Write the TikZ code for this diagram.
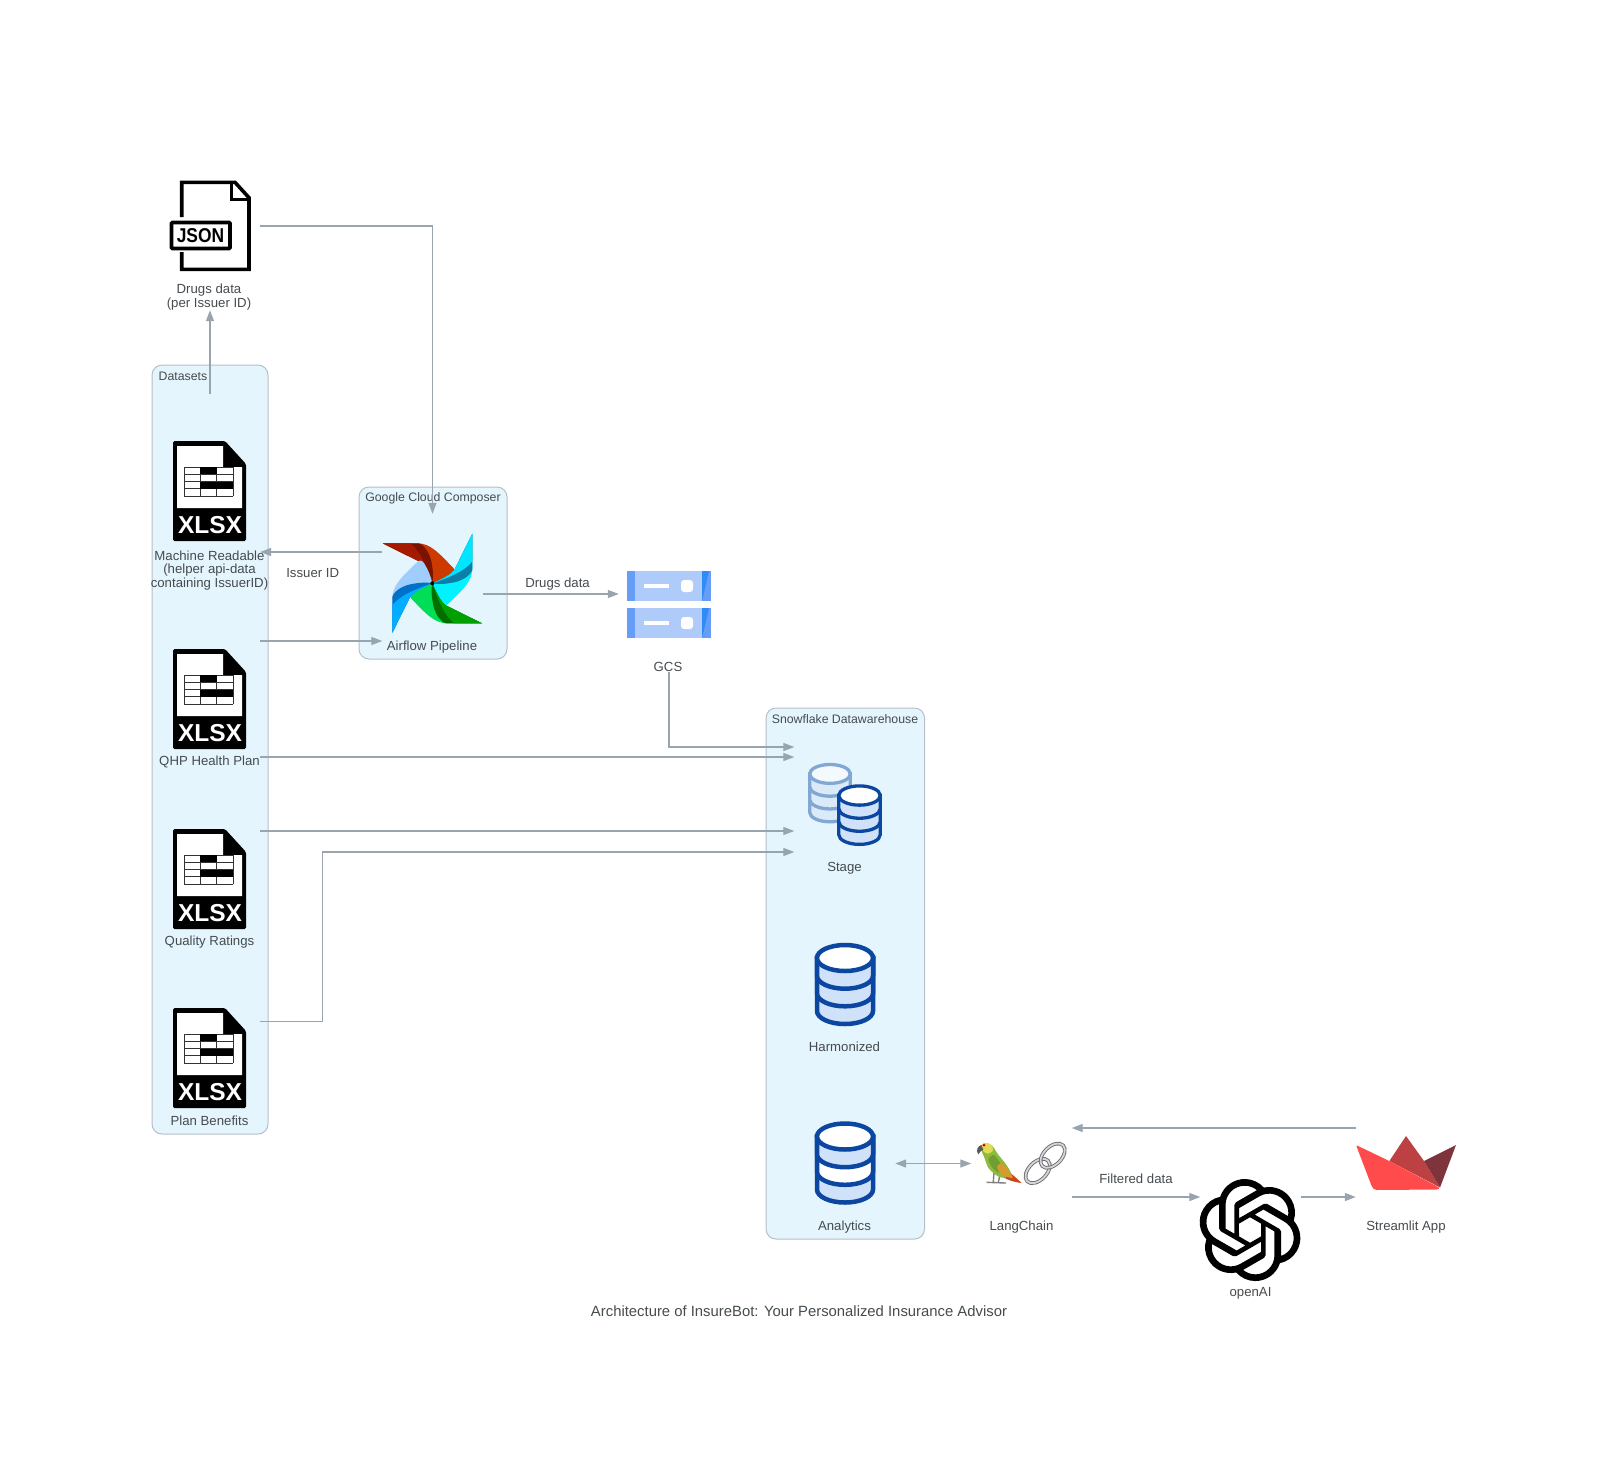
\documentclass[tikz,border=0pt]{standalone}
\usepackage{fontspec}
\setmainfont{Liberation Sans}
\usetikzlibrary{arrows.meta, calc, svg.path}
\definecolor{clusterfill}{HTML}{E5F5FD}
\definecolor{clusterline}{HTML}{B4C0C8}
\definecolor{linegrey}{HTML}{98A4AE}
\definecolor{labelgrey}{HTML}{454B4F}
\definecolor{dbblue}{HTML}{0B47A1}
\definecolor{dbpale}{HTML}{CFE2FA}
\definecolor{dbfaded}{HTML}{80A8D2}
\definecolor{dbfadedfill}{HTML}{DAEAF9}
\definecolor{gcsmid}{HTML}{AECBFA}
\definecolor{gcsside}{HTML}{669DF6}
\definecolor{gcsdark}{HTML}{2E8BF7}
\definecolor{redbase}{HTML}{A61B00}
\definecolor{redstripe}{HTML}{7A1200}
\definecolor{redouter}{HTML}{CC3A00}
\definecolor{cyanbase}{HTML}{00E5FF}
\definecolor{cyanstripe}{HTML}{0B7FA8}
\definecolor{cyanouter}{HTML}{00F2FF}
\definecolor{greenbase}{HTML}{00A000}
\definecolor{greenstripe}{HTML}{006F00}
\definecolor{greenouter}{HTML}{00DE55}
\definecolor{bluebase}{HTML}{00ADFF}
\definecolor{bluestripe}{HTML}{0070C8}
\definecolor{blueouter}{HTML}{A0CEFC}
\definecolor{boatleft}{HTML}{FF4B4B}
\definecolor{boatmid}{HTML}{BD4043}
\definecolor{boatright}{HTML}{7D353B}
\definecolor{parrotgreen}{HTML}{8DBB3C}
\definecolor{parrotdark}{HTML}{6E9E34}
\definecolor{parrothead}{HTML}{E3DA55}
\definecolor{parrotwing}{HTML}{D69A2E}
\definecolor{parrottail}{HTML}{C8481E}

\begin{document}
\begin{tikzpicture}[x=1pt, y=-1pt, >={Triangle[length=11pt, width=8pt]},
    flow/.style = {->, color=linegrey, line width=1.3pt},
    cluster/.style = {fill=clusterfill, draw=clusterline, line width=1pt, rounded corners=10pt},
    clusterlabel/.style = {font=\fontsize{12.3}{13}\selectfont, text=labelgrey, inner sep=0pt},
    lbl/.style = {font=\fontsize{13.2}{13.6}\selectfont, text=labelgrey, align=center, inner sep=0pt},
    iconbox/.style = {minimum width=100pt, minimum height=100pt, inner sep=0pt},
    dbline/.style = {line width=4.5pt},
    pics/xlsxfile/.style = {code={
        \fill[black, rounded corners=1.5pt] (-37,-50) -- (15,-50) -- (36,-27) -- (36,50) -- (-37,50) -- cycle;
        \fill[white] (-33,-45) -- (13,-45) -- (13,-24) -- (32,-24) -- (32,17) -- (-33,17) -- cycle;
        \foreach \gx in {-26,-9.7,6.7,23} \draw[black!80, line width=0.7pt] (\gx,-24) -- (\gx,5);
        \foreach \gy in {-24,-16.75,-9.5,-2.25,5} \draw[black!80, line width=0.7pt] (-26,\gy) -- (23,\gy);
        \fill[black] (-9.7,-24) rectangle (6.7,-16.75);
        \fill[black] (-9.7,-9.5) rectangle (23,-2.25);
        \node[text=white, font=\fontsize{24.5}{24}\bfseries, inner sep=0pt] (-tag) at (0,34) {XLSX};
    }},
    pics/dbicon/.style n args = {5}{code={
        \filldraw[draw=#1, fill=#5] (-28,-27) -- (-28,26) arc[start angle=180, end angle=0, x radius=28, y radius=13] -- (28,-27) -- cycle;
        \filldraw[draw=#1, fill=#4] (-28,-27) -- (-28,8.3) arc[start angle=180, end angle=0, x radius=28, y radius=13] -- (28,-27) -- cycle;
        \filldraw[draw=#1, fill=#3] (-28,-27) -- (-28,-9.3) arc[start angle=180, end angle=0, x radius=28, y radius=13] -- (28,-27) -- cycle;
        \filldraw[draw=#1, fill=#2] (0,-27) ellipse[x radius=28, y radius=13];
    }},
    pics/blade/.style n args = {3}{code={
        \fill[#3] (-149,-120) -- (-45,-120) .. controls (-5,-120) and (20,-90) .. (63,-46) .. controls (70,-38) and (70,-32) .. (62,-26) .. controls (40,-12) and (20,-4) .. (0,0) .. controls (-12,-28) and (-25,-55) .. (-40,-66) -- cycle;
        \fill[#2] (-149,-120) -- (-40,-120) .. controls (-20,-112) and (-5,-85) .. (-1,-55) .. controls (3,-35) and (3,-15) .. (0,0) .. controls (-12,-28) and (-25,-55) .. (-40,-66) -- cycle;
        \fill[#1] (-149,-120) -- (-66,-120) .. controls (-40,-100) and (-20,-60) .. (0,0) .. controls (-12,-28) and (-25,-55) .. (-40,-66) -- cycle;
    }}]
    \useasboundingbox (0,0) rectangle (1600,1465);
    % clusters
    \filldraw[cluster] (152,365) rectangle (268,1134);
    \filldraw[cluster] (359,487) rectangle (507,659);
    \filldraw[cluster] (766,708) rectangle (924.5,1239);
    \node[clusterlabel] (datasetsLabel) at (183,376.5) {Datasets};
    \node[clusterlabel] (composerLabel) at (433,498.5) {Google Cloud Composer};
    \node[clusterlabel] (snowflakeLabel) at (845,719.5) {Snowflake Datawarehouse};

    % nodes (invisible boxes, the icons go on top)
    \node[iconbox] (json) at (210,226) {};
    \node[iconbox] (machine) at (210,491) {};
    \node[iconbox] (qhp) at (210,699) {};
    \node[iconbox] (quality) at (210,879) {};
    \node[iconbox] (benefits) at (210,1058) {};
    \node[iconbox] (airflow) at (432.5,584) {};
    \node[iconbox] (gcs) at (669,604) {};
    \node[iconbox] (stage) at (844.5,805) {};
    \node[iconbox] (harmonized) at (845,985) {};
    \node[iconbox] (analytics) at (845,1163.5) {};
    \node[iconbox] (langchain) at (1021.5,1163.5) {};
    \node[iconbox] (openai) at (1250.5,1229) {};
    \node[iconbox] (streamlit) at (1406,1163) {};

    % json file
    \draw[black, line width=3.6pt] (181.7,217) -- (181.7,182.3) -- (235,182.3) -- (249,197.7) -- (249,269.3) -- (181.7,269.3) -- (181.7,252);
    \draw[black, line width=3.4pt] (231.7,184) -- (231.7,199.3) -- (247,199.3);
    \draw[black, line width=3.8pt, rounded corners=1pt] (171.5,222.5) rectangle (230,248.5);
    \node[font=\fontsize{20}{20}\bfseries, xscale=0.87, inner sep=0pt] (jsonTag) at (200.5,235.5) {JSON};

    % excel files
    \pic (machineIcon) at (machine.center) {xlsxfile};
    \pic (qhpIcon) at (qhp.center) {xlsxfile};
    \pic (qualityIcon) at (quality.center) {xlsxfile};
    \pic (benefitsIcon) at (benefits.center) {xlsxfile};

    % pinwheel
    \pic[scale=1/3] at (432.3,583.3) {blade={redbase}{redstripe}{redouter}};
    \pic[scale=1/3, rotate=-90] at (432.3,583.3) {blade={cyanbase}{cyanstripe}{cyanouter}};
    \pic[scale=1/3, rotate=180] at (432.3,583.3) {blade={greenbase}{greenstripe}{greenouter}};
    \pic[scale=1/3, rotate=90] at (432.3,583.3) {blade={bluebase}{bluestripe}{blueouter}};
    \fill[black] (432.3,583.3) circle (2);

    % bucket
    \foreach \ytop in {571,608} {
        \fill[gcsmid] (627,\ytop) rectangle (711,\ytop+30);
        \fill[gcsside] (627,\ytop) rectangle (635,\ytop+30);
        \fill[gcsside] (702,\ytop) rectangle (711,\ytop+30);
        \fill[gcsdark] (702,\ytop) -- (709,\ytop) -- (702,\ytop+30) -- cycle;
        \fill[white] (643.5,\ytop+13) rectangle (668.5,\ytop+17);
        \fill[white, rounded corners=3pt] (681,\ytop+9) rectangle (693,\ytop+21);
    }

    % warehouse layers
    \pic[line width=3.3pt, scale=0.725] at (830,793.5) {dbicon={dbfaded}{white!70!dbfadedfill}{dbfadedfill}{dbfadedfill}{dbfadedfill}};
    \pic[line width=3.3pt, scale=0.74] at (859.5,815.5) {dbicon={dbblue}{white}{dbpale}{dbpale}{dbpale}};
    \pic[dbline] at (harmonized.center) {dbicon={dbblue}{white}{dbpale}{dbpale}{dbpale}};
    \pic[dbline] at (analytics.center) {dbicon={dbblue}{white}{dbpale}{white}{dbpale}};

    % parrot and chain
    \begin{scope}[shift={(970,1135)}, scale=1/3]
        \draw[gray, line width=1.4pt] (72,112) -- (70,140) (90,118) -- (85,142) (50,142) -- (108,144);
        \fill[parrottail] (100,100) .. controls (118,110) and (135,125) .. (155,144) .. controls (135,142) and (115,136) .. (98,126) -- cycle;
        \fill[parrotgreen] plot[smooth cycle] coordinates {(32,36) (50,24) (68,34) (84,58) (108,88) (124,118) (105,128) (84,124) (56,100) (44,70)};
        \fill[parrotdark] plot[smooth cycle] coordinates {(56,72) (72,60) (90,84) (100,108) (84,112) (66,96)};
        \fill[parrotwing] plot[smooth cycle] coordinates {(82,92) (98,86) (116,108) (128,128) (106,124) (88,112)};
        \fill[parrothead] plot[smooth cycle] coordinates {(32,32) (50,24) (66,32) (68,48) (52,56) (38,46)};
        \fill[gray!70!black] (34,30) .. controls (22,34) and (18,44) .. (24,58) .. controls (30,50) and (36,46) .. (40,44) -- cycle;
        \fill[red!70!orange] (42,30) circle (5);
        \fill[black] (42,31) circle (2.2);
        \draw[gray!85!black, line width=3.6pt] (203,108) ellipse[x radius=44, y radius=27, rotate=45];
        \draw[blue!10!gray!30!white, line width=1.8pt] (203,108) ellipse[x radius=44, y radius=27, rotate=45];
        \draw[gray!85!black, line width=3.6pt] (248,62) ellipse[x radius=44, y radius=27, rotate=45];
        \draw[blue!10!gray!30!white, line width=1.8pt] (248,62) ellipse[x radius=44, y radius=27, rotate=45];
    \end{scope}

    % openai knot
    \fill[black, even odd rule, shift={(1250,1230)}, scale=4.25, yscale=-1, shift={(-12pt,-12pt)}] svg {
        M 22.2819 9.8211 a 5.9847 5.9847 0 0 0 -0.5157 -4.9108 a 6.0462 6.0462 0 0 0 -6.5098 -2.9 A 6.0651 6.0651 0 0 0 4.9807 4.1818 a 5.9847 5.9847 0 0 0 -3.9977 2.9 a 6.0462 6.0462 0 0 0 0.7427 7.0966 a 5.98 5.98 0 0 0 0.511 4.9107 a 6.051 6.051 0 0 0 6.5146 2.9001 A 5.9847 5.9847 0 0 0 13.2599 24 a 6.0557 6.0557 0 0 0 5.7718 -4.2058 a 5.9894 5.9894 0 0 0 3.9977 -2.9001 a 6.0557 6.0557 0 0 0 -0.7475 -7.0729 z
        M 13.2599 22.4292 a 4.4755 4.4755 0 0 1 -2.8764 -1.0408 l 0.1419 -0.0804 l 4.7783 -2.7582 a 0.7948 0.7948 0 0 0 0.3927 -0.6813 v -6.7369 l 2.02 1.1686 l 0.038 0.052 v 5.5826 a 4.504 4.504 0 0 1 -4.4945 4.4944 z
        M 3.5992 18.3038 a 4.4708 4.4708 0 0 1 -0.5346 -3.0137 l 0.142 0.0852 l 4.783 2.7582 a 0.7712 0.7712 0 0 0 0.7806 0 l 5.8428 -3.3685 v 2.3324 l -0.0332 0.0615 L 9.74 19.9502 a 4.4992 4.4992 0 0 1 -6.1408 -1.6464 z
        M 2.3408 7.8956 a 4.485 4.485 0 0 1 2.3655 -1.9728 V 11.6 a 0.7664 0.7664 0 0 0 0.3879 0.6765 l 5.8144 3.3543 l -2.0201 1.1685 l -0.071 0 l -4.8303 -2.7865 A 4.504 4.504 0 0 1 2.3408 7.872 z
        M 18.9371 11.7514 L 13.1038 8.364 L 15.1192 7.2 l 0.071 0 l 4.8303 2.7913 a 4.4944 4.4944 0 0 1 -0.6765 8.1042 v -5.6772 a 0.79 0.79 0 0 0 -0.407 -0.667 z
        M 20.9478 8.7283 l -0.142 -0.0852 l -4.7735 -2.7818 a 0.7759 0.7759 0 0 0 -0.7854 0 L 9.409 9.2297 V 6.8974 l 0.0284 -0.0615 l 4.8303 -2.7866 a 4.4992 4.4992 0 0 1 6.6802 4.66 z
        M 8.3065 12.863 l -2.02 -1.1638 l -0.038 -0.0567 V 6.0742 a 4.4992 4.4992 0 0 1 7.3757 -3.4537 l -0.142 0.0805 L 8.704 5.459 a 0.7948 0.7948 0 0 0 -0.3927 0.6813 z
        M 9.4041 10.4976 l 2.602 -1.4998 l 2.6069 1.4998 v 2.9994 l -2.5974 1.4997 l -2.6067 -1.4997 z};

    % boat
    \fill[boatmid] (1389.3,1161) -- (1406,1136) -- (1424,1161) -- (1440,1187.5) -- cycle;
    \fill[boatright] (1424,1161) -- (1456,1145) -- (1440,1187.5) -- cycle;
    \fill[boatleft, rounded corners=1.5pt] (1356,1145) -- (1389.3,1161) -- (1440,1188) -- (1438,1189.5) -- (1375,1190) -- (1372,1187) -- cycle;

    % labels
    \node[lbl] (jsonLabel) at (209,297) {Drugs data\\(per Issuer ID)};
    \node[lbl] (machineLabel) at (209.5,570.5) {Machine Readable\\(helper api-data\\containing IssuerID)};
    \node[lbl] (qhpLabel) at (209.5,762) {QHP Health Plan};
    \node[lbl] (qualityLabel) at (209.5,942) {Quality Ratings};
    \node[lbl] (benefitsLabel) at (209.5,1121) {Plan Benefits};
    \node[lbl] (airflowLabel) at (432,647) {Airflow Pipeline};
    \node[lbl] (gcsLabel) at (668,667) {GCS};
    \node[lbl] (stageLabel) at (844.5,868) {Stage};
    \node[lbl] (harmonizedLabel) at (844.5,1047) {Harmonized};
    \node[lbl] (analyticsLabel) at (844.5,1227) {Analytics};
    \node[lbl] (langchainLabel) at (1021.5,1227) {LangChain};
    \node[lbl] (openaiLabel) at (1250.5,1293) {openAI};
    \node[lbl] (streamlitLabel) at (1406,1227) {Streamlit App};
    \node[lbl, font=\fontsize{14.85}{15}\selectfont] (caption) at (799,1311) {Architecture of InsureBot: Your Personalized Insurance Advisor};

    % connectors
    \path[flow] ($(machine.north)+(0,-47)$) edge ($(json.south)+(0,34)$);
    \draw[flow] (json.east) -| ($(airflow.north)+(0,-20)$);
    \path[flow] ($(airflow.west)+(0,-32)$) edge node[lbl, pos=0.57, below=16pt] (issuerLabel) {Issuer ID} ($(machine.east)+(0,61)$);
    \path[flow] ($(qhp.east)+(0,-58)$) edge ($(airflow.west)+(0,57)$);
    \path[flow] ($(airflow.east)+(0,10)$) edge node[lbl, above=3pt, pos=0.55] (drugsLabel) {Drugs data} ($(gcs.west)+(0,-10)$);
    \draw[flow] ($(gcsLabel.south)+(1,0)$) |- ($(stage.west)+(0,-58)$);
    \path[flow] ($(qhp.east)+(0,58)$) edge ($(stage.west)+(0,-48)$);
    \path[flow] ($(quality.east)+(0,-48)$) edge ($(stage.west)+(0,26)$);
    \draw[flow] ($(benefits.east)+(0,-36.5)$) -- ++(62,0) |- ($(stage.west)+(0,47)$);
    \path[flow, <->] (analytics.east) edge (langchain.west);
    \path[flow] ($(streamlit.west)+(0,-35)$) edge ($(langchain.east)+(0,-35.5)$);
    \path[flow] ($(langchain.east)+(0,33.5)$) edge node[lbl, above=13pt, pos=0.5] (filteredLabel) {Filtered data} ($(openai.west)+(0,-32)$);
    \path[flow] ($(openai.east)+(0,-32)$) edge ($(streamlit.west)+(0,34)$);
\end{tikzpicture}
\end{document}
